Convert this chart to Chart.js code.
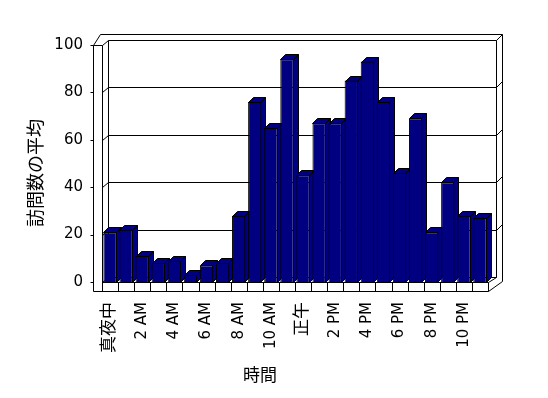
<!DOCTYPE html>
<html lang="ja">
<head>
<meta charset="UTF-8">
<title>訪問数の平均</title>
<style>
  html, body { margin: 0; padding: 0; background: #fff; }
  #grafico { display: block; }
</style>
<script src="https://cdn.jsdelivr.net/npm/chart.js"></script>
</head>
<body>
<canvas id="grafico" width="548" height="398"></canvas>
<script>
// horas del día (categorías)
const horas = ['真夜中', '1 AM', '2 AM', '3 AM', '4 AM', '5 AM', '6 AM', '7 AM', '8 AM', '9 AM', '10 AM', '11 AM',
               '正午', '1 PM', '2 PM', '3 PM', '4 PM', '5 PM', '6 PM', '7 PM', '8 PM', '9 PM', '10 PM', '11 PM'];
// promedio de visitas por hora
const visitas = [21, 22, 11, 8, 9, 3, 7, 8, 28, 76, 65, 94, 45, 67, 67, 85, 93, 76, 46, 69, 21, 42, 28, 27];
const marcasY = [0, 20, 40, 60, 80, 100];

const FUENTE = 'DejaVu Sans, "Noto Sans CJK JP", sans-serif';
const AZUL = '#000080';

function linea(ctx, pts) {
    ctx.beginPath();
    ctx.moveTo(pts[0][0], pts[0][1]);
    for (let i = 1; i < pts.length; i++) ctx.lineTo(pts[i][0], pts[i][1]);
    ctx.stroke();
}

function poligono(ctx, pts, relleno) {
    ctx.beginPath();
    ctx.moveTo(pts[0][0], pts[0][1]);
    for (let i = 1; i < pts.length; i++) ctx.lineTo(pts[i][0], pts[i][1]);
    ctx.closePath();
    ctx.fillStyle = relleno;
    ctx.fill();
    ctx.stroke();
}

// paredes, piso y caras laterales de las barras (estilo 3D)
const caja3d = {
    id: 'caja3d',
    beforeDatasetsDraw(chart) {
        const ctx = chart.ctx;
        const ys = chart.scales.y;
        const L = Math.round(chart.chartArea.left) + 0.5;
        const R = Math.round(chart.chartArea.right) + 0.5;
        const T = Math.round(ys.getPixelForValue(100)) + 0.5;
        const B = Math.round(ys.getPixelForValue(0)) + 0.5;
        ctx.save();
        ctx.strokeStyle = '#000';
        ctx.lineWidth = 1;

        // contorno exterior
        poligono(ctx, [[L - 9, B + 9], [L - 9, T], [L - 2, T - 11], [R + 14, T - 11], [R + 14, B - 1], [R, B + 9]], '#fff');
        // pared izquierda y fondo
        linea(ctx, [[L - 9, T], [L, T], [L + 6, T - 5], [R + 8, T - 5], [R + 14, T - 11]]);
        linea(ctx, [[L, T], [L, B + 9]]);
        linea(ctx, [[L + 6, T - 5], [L + 6, B - 5], [R + 8, B - 5], [R + 8, T - 5]]);
        linea(ctx, [[L, B], [L + 6, B - 5]]);
        linea(ctx, [[R, B], [R + 8, B - 5]]);
        // rejilla
        marcasY.forEach(v => {
            const y = Math.round(ys.getPixelForValue(v)) + 0.5;
            linea(ctx, [[L - 12, y], [L - 9, y]]);
            if (v > 0 && v < 100) {
                linea(ctx, [[L, y], [L + 6, y - 5], [R + 8, y - 5], [R + 14, y - 11]]);
            }
        });
        // frente del piso con divisiones
        linea(ctx, [[L, B], [R, B], [R, B + 9]]);
        const xs = chart.scales.x;
        const paso = (xs.right - xs.left) / horas.length;
        for (let k = 1; k < horas.length; k++) {
            const x = Math.round(xs.left + k * paso) + 0.5;
            linea(ctx, [[x, B], [x, B + 9]]);
        }

        // caras superior y lateral de cada barra
        const meta = chart.getDatasetMeta(0);
        meta.data.forEach(bar => {
            const izq = Math.round(bar.x - bar.width / 2) + 0.5;
            const der = Math.round(bar.x + bar.width / 2) - 0.5;
            const y = Math.round(bar.y) + 0.5;
            const base = Math.round(bar.base) + 0.5;
            poligono(ctx, [[der, y], [der + 5, y - 5], [der + 5, base - 5], [der, base]], AZUL);
            poligono(ctx, [[izq, y], [izq + 5, y - 5], [der + 5, y - 5], [der, y]], AZUL);
        });
        ctx.restore();
    },
    afterDraw(chart) {
        const ctx = chart.ctx;
        ctx.save();
        ctx.fillStyle = '#000';
        ctx.textAlign = 'center';
        ctx.textBaseline = 'middle';
        ctx.font = '17px "Noto Sans CJK JP", sans-serif';
        ctx.fillText('時間', 260, 375);
        ctx.translate(35, 173);
        ctx.rotate(-Math.PI / 2);
        ctx.font = '18px "Noto Sans CJK JP", sans-serif';
        ctx.fillText('訪問数の平均', 0, 0);
        ctx.restore();
    }
};

new Chart(document.getElementById('grafico'), {
    type: 'bar',
    data: {
        labels: horas,
        datasets: [{
            data: visitas,
            backgroundColor: AZUL,
            borderColor: '#000',
            borderWidth: 1,
            categoryPercentage: 1,
            barPercentage: 0.83
        }]
    },
    options: {
        responsive: false,
        animation: false,
        layout: { padding: { top: 45, right: 60, left: 0, bottom: 0 } },
        plugins: { legend: { display: false }, tooltip: { enabled: false } },
        scales: {
            x: {
                grid: { display: false, drawTicks: false },
                border: { display: false },
                ticks: {
                    autoSkip: false,
                    minRotation: 90,
                    maxRotation: 90,
                    padding: 20,
                    color: '#000',
                    // los rótulos en kanji son un poco más grandes
                    font: c => ({ family: FUENTE, size: /AM|PM/.test(horas[c.index]) ? 15 : 17 }),
                    callback: (v, i) => (i % 2 === 0 ? horas[i] : '')
                },
                afterFit: s => { s.height = 116; }
            },
            y: {
                min: 0,
                max: 100,
                grid: { display: false, drawTicks: false },
                border: { display: false },
                ticks: {
                    stepSize: 20,
                    padding: 19,
                    color: '#000',
                    font: { family: FUENTE, size: 15 }
                },
                afterFit: s => { s.width = 102; }
            }
        }
    },
    plugins: [caja3d]
});
</script>
</body>
</html>
